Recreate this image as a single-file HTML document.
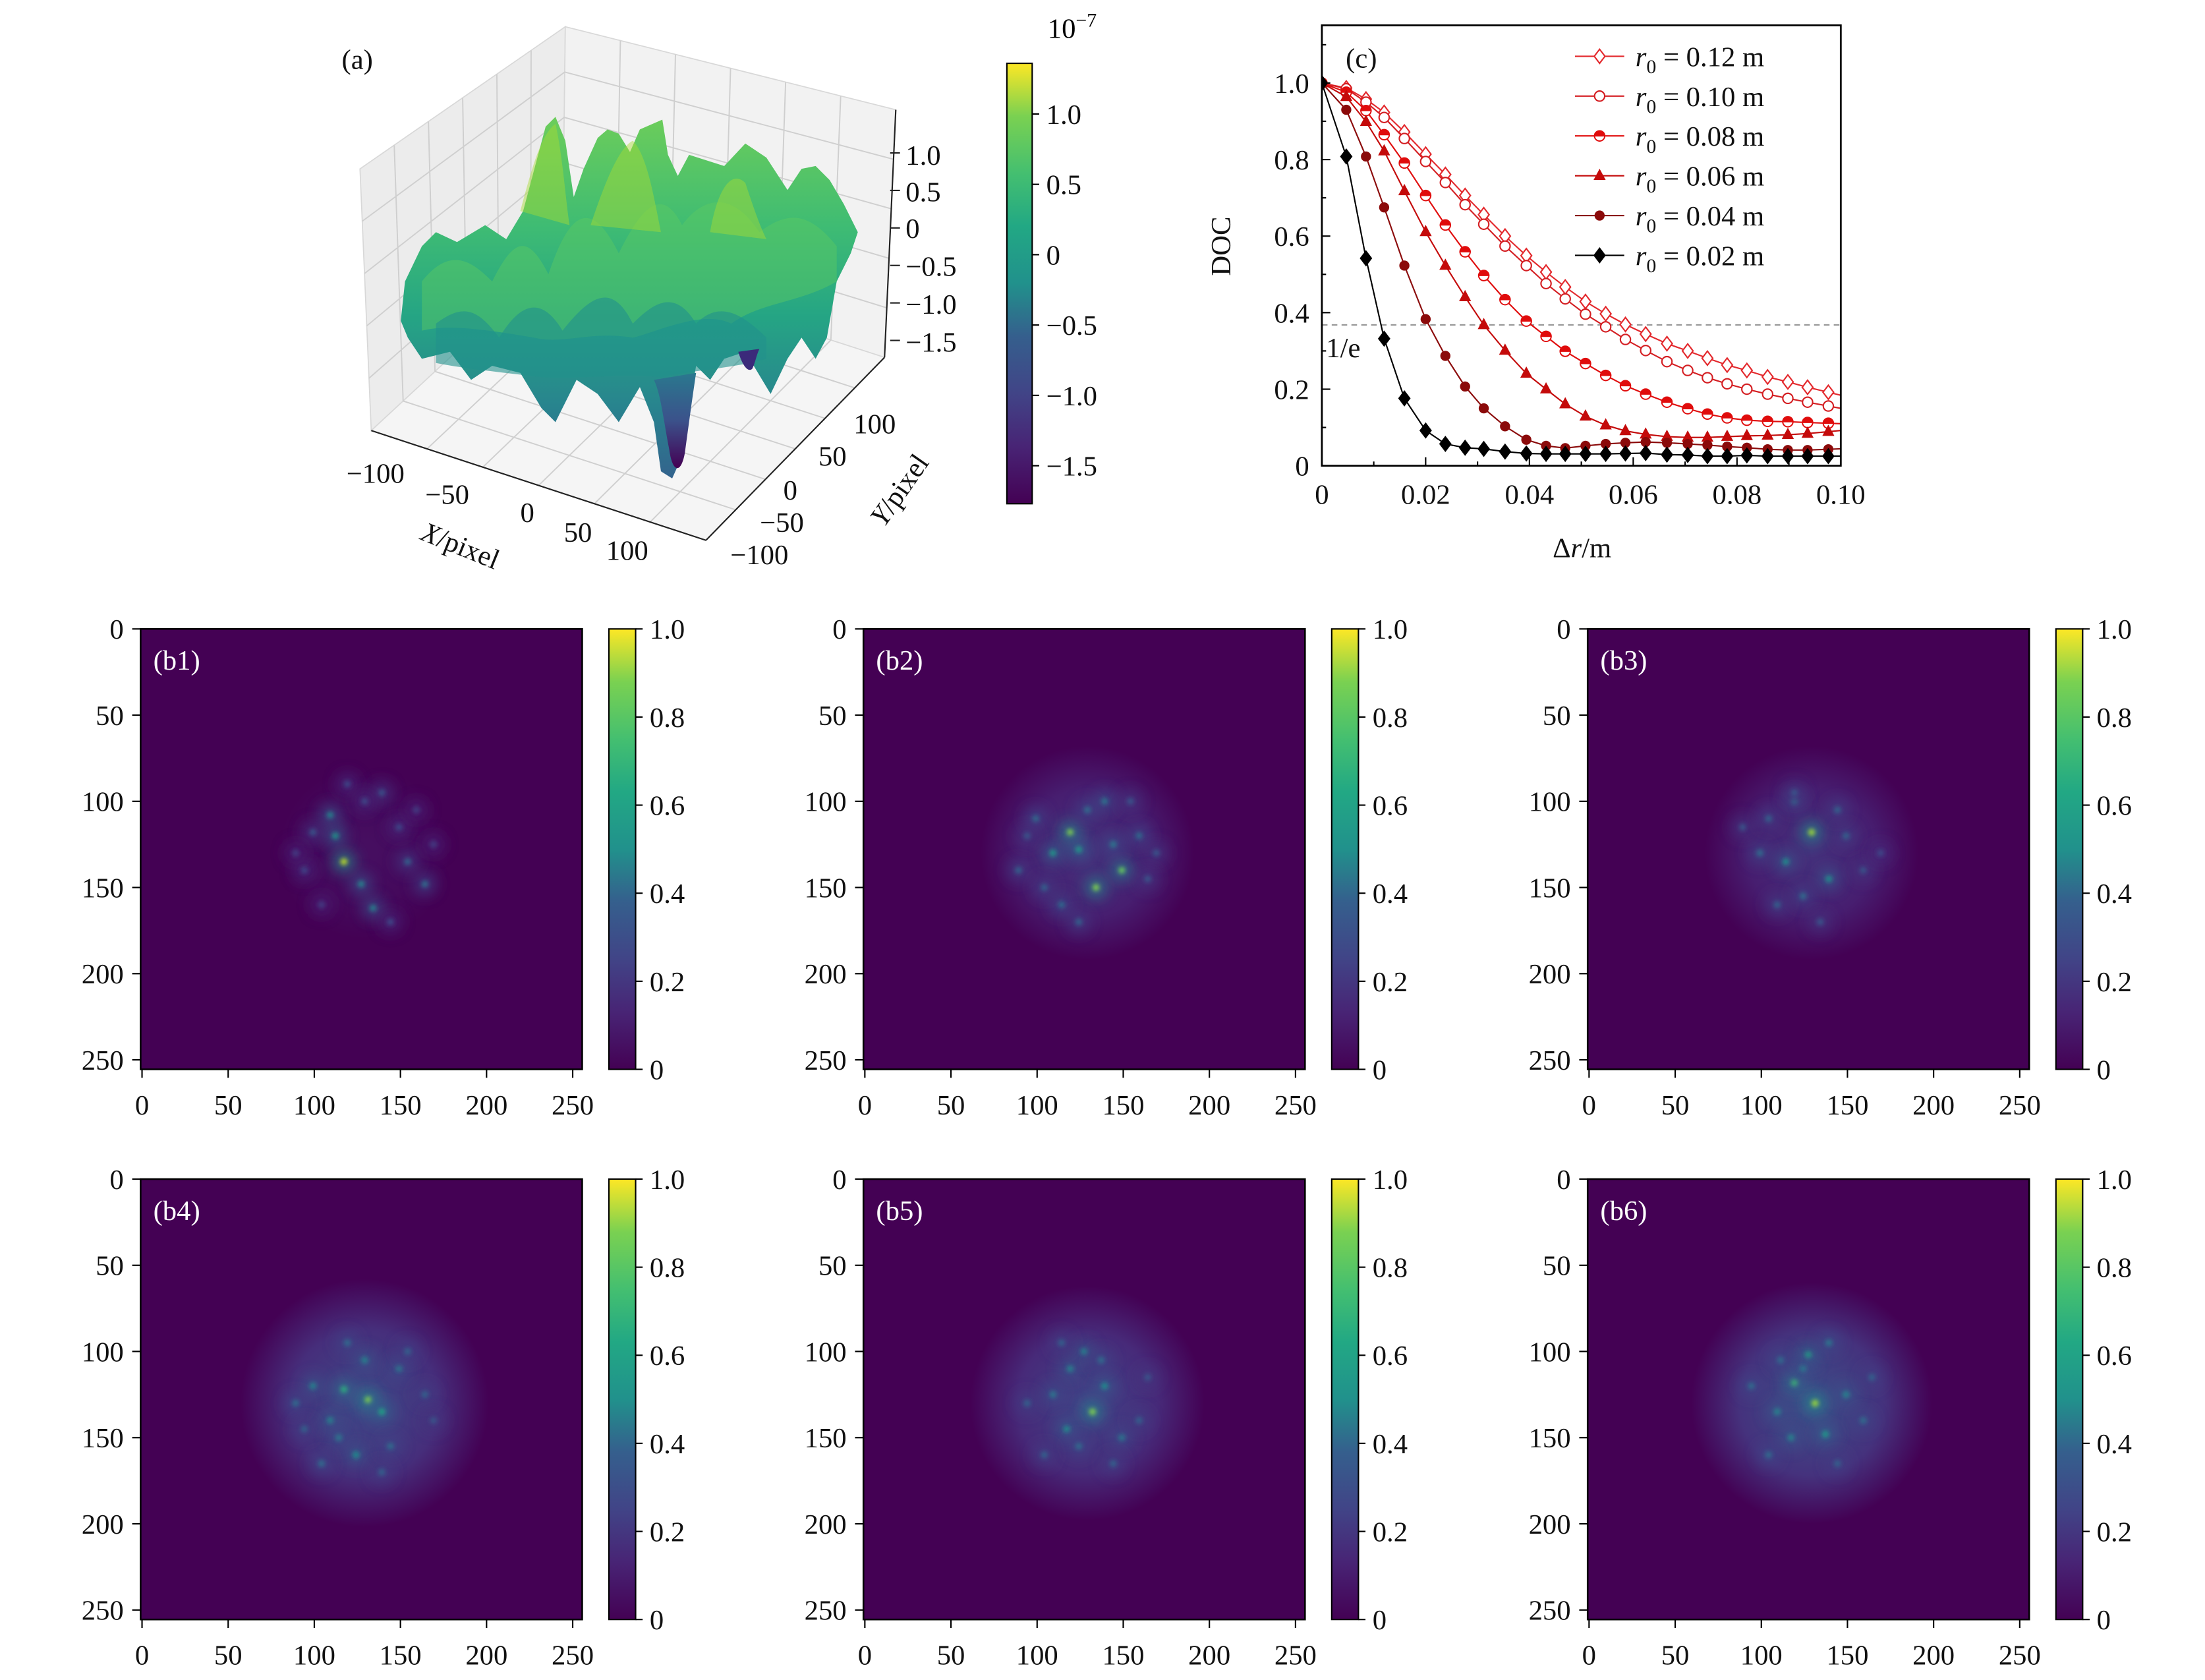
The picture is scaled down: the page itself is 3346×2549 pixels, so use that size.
<!DOCTYPE html>
<html><head><meta charset="utf-8"><style>
html,body{margin:0;padding:0;background:#fff;}
svg{display:block;font-family:"Liberation Serif",serif;}
</style></head><body>
<svg id="fig" xmlns="http://www.w3.org/2000/svg" width="3346" height="2549" viewBox="0 0 1568 1194" preserveAspectRatio="none">
<defs>
<linearGradient id="vir" x1="0" y1="1" x2="0" y2="0">
<stop offset="0" stop-color="#440154"/><stop offset="0.13" stop-color="#482475"/><stop offset="0.25" stop-color="#414487"/><stop offset="0.38" stop-color="#355f8d"/><stop offset="0.5" stop-color="#21918c"/><stop offset="0.63" stop-color="#22a884"/><stop offset="0.75" stop-color="#44bf70"/><stop offset="0.88" stop-color="#7ad151"/><stop offset="1" stop-color="#fde725"/>
</linearGradient>
<linearGradient id="surf" x1="0" y1="0" x2="0" y2="1">
<stop offset="0" stop-color="#6ccd5a"/><stop offset="0.3" stop-color="#3fbc73"/><stop offset="0.55" stop-color="#25a584"/><stop offset="0.8" stop-color="#28848e"/><stop offset="1" stop-color="#33638d"/>
</linearGradient>
<linearGradient id="dip" x1="0" y1="0" x2="0" y2="1">
<stop offset="0" stop-color="#2a788e"/><stop offset="0.5" stop-color="#3b528b"/><stop offset="1" stop-color="#440154"/>
</linearGradient>
<filter id="blur2" x="-1" y="-1" width="3" height="3"><feGaussianBlur stdDeviation="1.6"/></filter>
<filter id="blur6" x="-1" y="-1" width="3" height="3"><feGaussianBlur stdDeviation="5"/></filter>
<filter id="blur3" x="-1" y="-1" width="3" height="3"><feGaussianBlur stdDeviation="2.5"/></filter>
</defs>

<!-- Panel (a) -->
<g id="panel-a">
  <polygon points="256,120 402,19 400,180 264,306" fill="#ececec" stroke="#d8d8d8" stroke-width="0.8"/>
  <polygon points="402,19 637,78 629,254 400,180" fill="#f2f2f2" stroke="#d8d8d8" stroke-width="0.8"/>
  <polygon points="264,306 400,180 629,254 502,384" fill="#f5f5f5" stroke="#d8d8d8" stroke-width="0.8"/>
  <g id="grid3d" stroke="#cfcfcf" stroke-width="0.9"></g>
  <polygon fill="url(#surf)" points="285,228 288,200 300,175 310,165 325,172 345,160 360,170 372,150 380,120 388,90 395,83 402,100 408,140 415,120 425,98 432,92 440,95 448,108 455,92 471,85 475,110 482,125 490,110 515,118 530,102 545,112 560,135 570,120 580,118 590,128 600,145 610,165 605,180 595,200 588,240 580,255 570,240 560,255 548,280 530,250 515,255 505,270 495,260 490,290 487,320 478,340 470,335 465,300 455,275 440,300 425,280 410,270 395,300 385,290 370,265 350,260 335,270 320,250 300,255 290,240"/>
  <path d="M300,200 C320,175 335,185 350,200 C365,170 375,165 390,195 C405,150 420,140 440,180 C455,150 470,130 485,160 C500,140 520,135 540,165 C560,150 575,150 595,175 L595,200 C570,215 540,215 520,230 C500,220 470,235 450,240 C420,235 400,245 380,240 C350,235 320,230 300,235 Z" fill="#5ec962" opacity="0.45"/>
  <path d="M310,230 C330,215 340,220 355,240 C370,215 385,210 400,235 C420,210 435,200 450,230 C465,215 480,205 495,230 C510,215 525,220 545,240 L545,255 C520,262 500,262 470,268 C440,265 410,270 385,268 C360,265 330,262 310,258 Z" fill="#21918c" opacity="0.6"/>
  <path d="M420,160 C430,130 440,105 450,100 C460,110 465,140 470,165 Z M505,165 C510,135 520,120 530,130 C535,145 540,160 545,170 Z M370,150 C378,120 385,95 395,88 C400,110 402,140 405,160 Z" fill="#a8db34" opacity="0.45"/>
  <path d="M465,270 C470,280 472,300 476,320 C478,335 484,338 487,322 C490,300 492,285 495,265 Z" fill="url(#dip)"/>
  <path d="M525,250 C528,260 532,265 535,262 C537,258 538,252 540,248 Z" fill="#3b2a7a"/>
  <line x1="264" y1="306" x2="502" y2="384" stroke="#222" stroke-width="1"/>
  <line x1="502" y1="384" x2="629" y2="254" stroke="#222" stroke-width="1"/>
  <line x1="637" y1="78" x2="629" y2="254" stroke="#222" stroke-width="1"/>
  <g font-size="20" fill="#111">
    <text x="243" y="49">(a)</text>
    <text x="644" y="117">1.0</text>
    <text x="644" y="143">0.5</text>
    <text x="644" y="169">0</text>
    <text x="644" y="196">−0.5</text>
    <text x="644" y="223">−1.0</text>
    <text x="644" y="250">−1.5</text>
    <text x="267" y="343" text-anchor="middle">−100</text>
    <text x="318" y="358" text-anchor="middle">−50</text>
    <text x="375" y="371" text-anchor="middle">0</text>
    <text x="411" y="385" text-anchor="middle">50</text>
    <text x="446" y="398" text-anchor="middle">100</text>
    <text x="622" y="308" text-anchor="middle">100</text>
    <text x="592" y="331" text-anchor="middle">50</text>
    <text x="562" y="355" text-anchor="middle">0</text>
    <text x="556" y="378" text-anchor="middle">−50</text>
    <text x="540" y="401" text-anchor="middle">−100</text>
    <text transform="translate(325,394) rotate(22)" text-anchor="middle"><tspan font-style="italic">X</tspan>/pixel</text>
    <text transform="translate(645,352) rotate(-55)" text-anchor="middle"><tspan font-style="italic">Y</tspan>/pixel</text>
  </g>
  <rect x="716" y="45" width="18" height="313" fill="url(#vir)" stroke="#000" stroke-width="1"/>
  <g id="cbar-a-ticks" font-size="20" fill="#111"></g>
  <text x="745" y="27" font-size="20">10<tspan dy="-8" font-size="14">−7</tspan></text>
</g>

<!-- Panel (c) -->
<g id="panel-c"></g>

<!-- Heatmaps -->
<g id="heatmaps"></g>

<script>
// ---------- Panel (c) data ----------
const docX = [0,0.0047,0.0085,0.0120,0.0159,0.0200,0.0238,0.0276,0.0312,0.0353,0.0394,0.0432,0.0469,0.0508,0.0547,0.0585,0.0624,0.0665,0.0705,0.0743,0.0781,0.0819,0.0859,0.0898,0.0936,0.0976];
const seriesLabels = ["0.12","0.10","0.08","0.06","0.04","0.02"];
const docR012 = [1.0,.987,.958,.923,.872,.814,.761,.706,.656,.600,.549,.506,.467,.429,.397,.369,.344,.319,.300,.281,.263,.249,.232,.219,.205,.192];
const docR010 = [1.0,.985,.950,.910,.855,.795,.740,.682,.631,.574,.523,.476,.436,.396,.363,.330,.301,.272,.249,.230,.214,.200,.187,.176,.166,.156];
const docR008 = [1.0,.976,.928,.865,.791,.706,.629,.559,.497,.434,.378,.338,.299,.267,.236,.209,.187,.166,.149,.135,.125,.119,.116,.115,.113,.111];
const docR006 = [1.0,.964,.899,.822,.718,.611,.523,.441,.368,.301,.241,.200,.161,.129,.106,.091,.082,.076,.074,.074,.076,.078,.079,.081,.084,.089];
const docR004 = [1.0,.930,.808,.675,.523,.383,.287,.207,.150,.103,.068,.052,.046,.052,.057,.060,.062,.060,.057,.054,.050,.047,.043,.041,.041,.043];
const docR002 = [1.0,.808,.542,.332,.176,.092,.057,.047,.044,.037,.032,.031,.031,.031,.031,.032,.033,.029,.028,.025,.025,.027,.025,.025,.025,.025];
const docXTicks = [0,0.02,0.04,0.06,0.08,0.10];
const docXTickLabels = ["0","0.02","0.04","0.06","0.08","0.10"];
const docYTicks = [0,0.2,0.4,0.6,0.8,1.0];
const docYTickLabels = ["0","0.2","0.4","0.6","0.8","1.0"];
const oneOverE = 0.3679;

// ---------- Heatmap data ----------
const heatTitles = ["(b1)","(b2)","(b3)","(b4)","(b5)","(b6)"];
const haloRadius = [50,62,62,72,68,70];
const haloLevel = [0.04,0.14,0.14,0.22,0.2,0.24];
const spotX = [[118,113,110,128,135,165,155,100,140,95,150,120,105,170,145,130,90,160],[120,150,135,110,125,100,160,140,90,170,115,145,105,130,155,95,165,125],[130,115,140,120,100,150,125,90,160,110,145,135,105,170,120],[132,118,140,125,100,150,110,130,90,165,115,145,105,155,120,140,95,170],[133,118,140,120,150,110,128,95,160,105,145,125,165,115,138],[132,120,128,138,110,150,118,95,160,105,145,125,165,140,112]];
const spotY = [[135,120,108,148,162,148,135,118,95,140,115,90,160,125,170,100,130,105],[118,140,150,130,128,110,120,100,140,130,160,125,150,105,100,120,145,170],[118,135,145,100,130,120,155,115,140,160,105,170,110,130,95],[128,122,135,160,120,110,140,105,130,125,150,155,165,100,95,170,145,140],[135,145,120,110,150,125,100,130,140,160,165,155,115,95,105],[130,118,102,148,135,125,150,120,140,160,165,110,115,95,105]];
const spotV = [[1.0,0.6,0.5,0.5,0.5,0.4,0.35,0.3,0.3,0.25,0.25,0.25,0.2,0.2,0.25,0.25,0.2,0.2],[0.9,0.85,0.9,0.6,0.6,0.4,0.4,0.45,0.35,0.3,0.4,0.45,0.35,0.4,0.3,0.3,0.3,0.35],[0.95,0.55,0.55,0.4,0.4,0.35,0.4,0.3,0.3,0.35,0.35,0.3,0.35,0.25,0.3],[0.9,0.7,0.65,0.55,0.5,0.45,0.5,0.5,0.4,0.35,0.45,0.4,0.4,0.35,0.4,0.35,0.35,0.3],[0.9,0.55,0.55,0.5,0.45,0.45,0.5,0.35,0.35,0.35,0.35,0.4,0.3,0.35,0.4],[0.95,0.75,0.65,0.6,0.5,0.5,0.5,0.4,0.4,0.4,0.35,0.45,0.35,0.45,0.4]];
const heatTicks = [0,50,100,150,200,250];
const cbarTicks = [0,0.2,0.4,0.6,0.8,1.0];
const cbarTickLabels = ["0","0.2","0.4","0.6","0.8","1.0"];
const cbarATicks = [1.0,0.5,0,-0.5,-1.0,-1.5];
const cbarATickLabels = ["1.0","0.5","0","−0.5","−1.0","−1.5"];

const NS = "http://www.w3.org/2000/svg";
function mk(tag, attrs, parent){const e=document.createElementNS(NS,tag);for(const k in attrs)e.setAttribute(k,attrs[k]);if(parent)parent.appendChild(e);return e;}
function tspan(parent,txt,attrs){const t=mk('tspan',attrs||{},parent);t.textContent=txt;return t;}
const VIR=[[68,1,84],[72,36,117],[65,68,135],[53,95,141],[42,120,142],[33,145,140],[34,168,132],[68,191,112],[122,209,81],[189,223,38],[253,231,37]];
function viridis(v){v=Math.max(0,Math.min(1,v));const p=v*(VIR.length-1),i=Math.min(Math.floor(p),VIR.length-2),f=p-i;const c=VIR[i].map((a,k)=>Math.round(a+(VIR[i+1][k]-a)*f));return `rgb(${c[0]},${c[1]},${c[2]})`;}

// ---------- 3D grid lines ----------
(function(){
  const g=document.getElementById('grid3d');
  function lerp(a,b,t){return [a[0]+(b[0]-a[0])*t,a[1]+(b[1]-a[1])*t];}
  const LT=[256,120],BT=[402,19],BB=[400,180],LB=[264,306],RT=[637,78],RB=[629,254],FB=[502,384];
  function gl(a,b){const l=mk('line',{x1:a[0],y1:a[1],x2:b[0],y2:b[1]},g);
    
    }
  for(let i=1;i<=5;i++){const t=i/6;
    gl(lerp(LT,BT,t),lerp(LB,BB,t));gl(lerp(BT,RT,t),lerp(BB,RB,t));gl(lerp(LB,BB,t),lerp(FB,RB,t));gl(lerp(BB,RB,t),lerp(LB,FB,t));}
  for(let i=1;i<=4;i++){const t=i/5;gl(lerp(LT,LB,t),lerp(BT,BB,t));gl(lerp(BT,BB,t),lerp(RT,RB,t));}
  const zt=document.getElementById('panel-a');
  [1.0,0.5,0,-0.5,-1.0,-1.5].forEach(v=>{const y=162-v*53.3;const l=mk('line',{x1:633,y1:y,x2:640,y2:y,stroke:'#222','stroke-width':1},zt);
    
    });
  const cg=document.getElementById('cbar-a-ticks');
  const cy=v=>181-v*100;
  cbarATicks.forEach((v,i)=>{const l=mk('line',{x1:734,y1:cy(v),x2:739,y2:cy(v),stroke:'#000','stroke-width':1},cg);
    
    
    const t=mk('text',{x:744,y:cy(v)+7},cg);t.textContent=cbarATickLabels[i];
    
    });
})();

// ---------- Panel (c) ----------
(function(){
  const g=document.getElementById('panel-c');
  const L=940,R=1309,T=18,B=331;
  const sx=v=>L+(v-0)/(0.10)*(R-L);
  const sy=v=>B-v*272;
  const clip=mk('clipPath',{id:'cclip'},g);mk('rect',{x:L,y:T,width:R-L,height:B-T},clip);
  const dl=mk('line',{x1:L,y1:sy(oneOverE),x2:R,y2:sy(oneOverE),stroke:'#999','stroke-width':1.1,'stroke-dasharray':'4,3'},g);
  
  
  const et=mk('text',{x:943,y:254,'font-size':20,fill:'#111'},g);et.textContent='1/e';
  
  
  const data=[docR012,docR010,docR008,docR006,docR004,docR002];
  const colors=['#e3282c','#d41e22','#e00c0c','#c40a0a','#8b0a0a','#000000'];
  const markers=['diamond-open','circle-open','circle-half','triangle','circle','diamond'];
  function marker(parent,kind,x,y,c){
    let e;
    if(kind==='diamond-open'||kind==='diamond'){e=mk('polygon',{points:`${x},${y-5} ${x+3.8},${y} ${x},${y+5} ${x-3.8},${y}`,fill:kind==='diamond'?c:'#fff',stroke:c,'stroke-width':1},parent);}
    else if(kind==='circle-open'){e=mk('circle',{cx:x,cy:y,r:3.6,fill:'#fff',stroke:c,'stroke-width':1},parent);}
    else if(kind==='circle-half'){e=mk('circle',{cx:x,cy:y,r:3.6,fill:c,stroke:c,'stroke-width':1},parent);mk('path',{d:`M${x-3.6},${y} A3.6,3.6 0 0 0 ${x+3.6},${y} Z`,fill:'#fff',stroke:c,'stroke-width':0.8},parent);}
    else if(kind==='triangle'){e=mk('polygon',{points:`${x},${y-5} ${x+4.3},${y+3} ${x-4.3},${y+3}`,fill:c},parent);}
    else {e=mk('circle',{cx:x,cy:y,r:3.6,fill:c},parent);}
    
    
  }
  data.forEach((arr,si)=>{
    const sg=mk('g',{'clip-path':'url(#cclip)'},g);
    
    
    const pts=arr.map((v,i)=>sx(docX[i])+','+sy(v)).join(' ');
    const last=arr.length-1, ex=sx(0.10), ey=sy(arr[last]+(arr[last]-arr[last-1])*(0.10-docX[last])/(docX[last]-docX[last-1]));
    const pl=mk('polyline',{points:pts+' '+ex+','+ey,fill:'none',stroke:colors[si],'stroke-width':1},sg);
    
    
    arr.forEach((v,i)=>marker(sg,markers[si],sx(docX[i]),sy(v),colors[si]));
    const ly=40+si*28.3;
    const lg=mk('g',{},g);
    
    
    mk('line',{x1:1120,y1:ly,x2:1155,y2:ly,stroke:colors[si],'stroke-width':1},lg);
    marker(lg,markers[si],1137.5,ly,colors[si]);
    const lt=mk('text',{x:1163,y:ly+7,'font-size':20,fill:'#111'},lg);
    tspan(lt,'r',{'font-style':'italic'});
    tspan(lt,'0',{'font-size':14,dy:5});
    tspan(lt,' = '+seriesLabels[si]+' m',{dy:-5});
  });
  const fr=mk('rect',{x:L,y:T,width:R-L,height:B-T,fill:'none',stroke:'#000','stroke-width':1.3},g);
  
  
  docXTicks.forEach((v,i)=>{const l=mk('line',{x1:sx(v),y1:B,x2:sx(v),y2:B-6,stroke:'#000'},g);
    
    
    const t=mk('text',{x:sx(v),y:B+27,'font-size':20,'text-anchor':'middle',fill:'#111'},g);t.textContent=docXTickLabels[i];
    
    });
  for(let k=1;k<10;k+=2){const v=k*0.01;const l=mk('line',{x1:sx(v),y1:B,x2:sx(v),y2:B-3,stroke:'#000'},g);
    
    }
  docYTicks.forEach((v,i)=>{const l=mk('line',{x1:L,y1:sy(v),x2:L+6,y2:sy(v),stroke:'#000'},g);
    
    
    const t=mk('text',{x:931,y:sy(v)+7,'font-size':20,'text-anchor':'end',fill:'#111'},g);t.textContent=docYTickLabels[i];
    
    });
  for(let k=1;k<=11;k+=2){const v=k*0.1;const l=mk('line',{x1:L,y1:sy(v),x2:L+3,y2:sy(v),stroke:'#000'},g);
    
    }
  const yt=mk('text',{transform:'translate(875,175) rotate(-90)','font-size':20,'text-anchor':'middle',fill:'#111'},g);yt.textContent='DOC';
  
  
  const xt=mk('text',{x:1125,y:396,'font-size':20,'text-anchor':'middle',fill:'#111'},g);
  tspan(xt,'Δ');tspan(xt,'r',{'font-style':'italic'});tspan(xt,'/m');
  
  
  const pc=mk('text',{x:957,y:48,'font-size':20,fill:'#111'},g);pc.textContent='(c)';
  
  
})();

// ---------- Heatmaps ----------
(function(){
  const root=document.getElementById('heatmaps');
  const offX=[100,614,1129], offY=[447,838];
  const W=314,H=313, scale=1.225;
  heatTitles.forEach((title,p)=>{
    const px=offX[p%3], py=offY[Math.floor(p/3)];
    const g=mk('g',{},root);
    
    
    const cid='hc'+p;const cp=mk('clipPath',{id:cid},g);mk('rect',{x:px,y:py,width:W,height:H},cp);
    const ig=mk('g',{'clip-path':`url(#${cid})`},g);
    const bg=mk('rect',{x:px,y:py,width:W,height:H,fill:viridis(0)},ig);
    
    
    const gid='halo'+p;const rg=mk('radialGradient',{id:gid},g);
    mk('stop',{offset:'0','stop-color':viridis(haloLevel[p])},rg);
    mk('stop',{offset:'0.6','stop-color':viridis(haloLevel[p]*0.6)},rg);
    mk('stop',{offset:'1','stop-color':viridis(0)},rg);
    const halo=mk('circle',{cx:px+130*scale,cy:py+130*scale,r:haloRadius[p]*scale,fill:`url(#${gid})`},ig);
    
    
    spotX[p].forEach((sx0,i)=>{
      const v=spotV[p][i];
      const glow=mk('circle',{cx:px+sx0*scale,cy:py+spotY[p][i]*scale,r:8,fill:viridis(v*0.5),opacity:0.7,filter:'url(#blur6)'},ig);
      
      
      const c=mk('circle',{cx:px+sx0*scale,cy:py+spotY[p][i]*scale,r:2.4,fill:viridis(v*0.9),filter:'url(#blur2)'},ig);
      
      
    });
    const fr=mk('rect',{x:px,y:py,width:W,height:H,fill:'none',stroke:'#000','stroke-width':1.2},g);
    
    
    const lab=mk('text',{x:px+9,y:py+29,'font-size':20,fill:'#fff'},g);lab.textContent=title;
    
    
    heatTicks.forEach(v=>{
      const x=px+v*scale+1, y=py+v*scale;
      let l=mk('line',{x1:x,y1:py+H,x2:x,y2:py+H+6,stroke:'#000'},g);
      
      
      let t=mk('text',{x:x,y:py+H+32,'font-size':20,'text-anchor':'middle',fill:'#111'},g);t.textContent=v;
      
      
      l=mk('line',{x1:px-6,y1:y,x2:px,y2:y,stroke:'#000'},g);
      
      
      t=mk('text',{x:px-12,y:y+7,'font-size':20,'text-anchor':'end',fill:'#111'},g);t.textContent=v;
      
      
    });
    const cx=px+333;
    const cb=mk('rect',{x:cx,y:py,width:19,height:H,fill:'url(#vir)',stroke:'#000','stroke-width':1},g);
    
    
    cbarTicks.forEach((v,i)=>{const y=py+H-v*H;
      const l=mk('line',{x1:cx+19,y1:y,x2:cx+24,y2:y,stroke:'#000'},g);
      
      
      const t=mk('text',{x:cx+29,y:y+7,'font-size':20,fill:'#111'},g);t.textContent=cbarTickLabels[i];
      
      });
  });
})();
</script>
</svg>
</body></html>
